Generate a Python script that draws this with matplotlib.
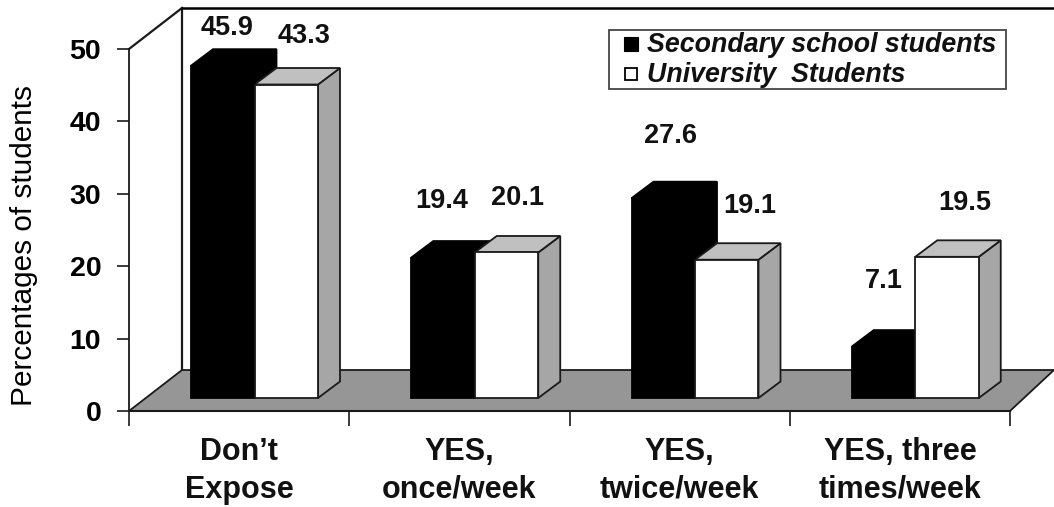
import matplotlib
matplotlib.use('Agg')
import matplotlib.pyplot as plt
from matplotlib.patches import Polygon, Rectangle

plt.rcParams['font.family'] = ['Liberation Sans', 'DejaVu Sans']

categories = ["Don\u2019t\nExpose", "YES,\nonce/week", "YES,\ntwice/week", "YES, three\ntimes/week"]
secondary = [45.9, 19.4, 27.6, 7.1]
university = [43.3, 20.1, 19.1, 19.5]
y_ticks = [0, 10, 20, 30, 40, 50]
series_names = ["Secondary school students", "University  Students"]

W, H = 1054, 507
x0, x1 = 129, 1010
y0, y50 = 411, 49

fig = plt.figure(figsize=(W / 100, H / 100), dpi=100)
ax = fig.add_axes([x0 / W, 1 - y0 / H, (x1 - x0) / W, (y0 - y50) / H])
ax.set_xlim(0, 4)
ax.set_ylim(0, 50)

# pixel sizes expressed in data units
px = 4 / (x1 - x0)
py = 50 / (y0 - y50)

wall_dx, wall_dy = 53 * px, 41 * py
bar_dx, bar_dy = 22 * px, 16.5 * py
base = 13 * py
bar_w = 63.5 * px
margin = (191 - 129) * px
edge = '#1a1a1a'


def poly(pts, face, z=2, lw=1.3, ec=edge):
    ax.add_patch(Polygon(pts, closed=True, facecolor=face, edgecolor=ec,
                         linewidth=lw, joinstyle='miter', clip_on=False, zorder=z))


# back wall and side wall, open at the right
ax.plot([0, wall_dx], [50, 50 + wall_dy], color=edge, lw=1.6, clip_on=False, zorder=1)
ax.plot([wall_dx, wall_dx], [wall_dy, 50 + wall_dy], color=edge, lw=1.6, clip_on=False, zorder=1)
ax.plot([wall_dx, (W - x0) * px], [50 + wall_dy] * 2, color='black', lw=1.8, clip_on=False, zorder=1)

# floor
poly([(0, 0), (wall_dx, wall_dy), ((W - x0) * px, wall_dy), (4, 0)], '#969696', z=1.5)


def draw_bar(left, value, face):
    right = left + bar_w
    top = base + value
    ec = 'black' if face == 'black' else edge
    # right side
    poly([(right, base), (right + bar_dx, base + bar_dy),
          (right + bar_dx, top + bar_dy), (right, top)], '#a6a6a6' if face == 'white' else 'black', ec=ec)
    # top
    poly([(left, top), (left + bar_dx, top + bar_dy),
          (right + bar_dx, top + bar_dy), (right, top)], '#c0c0c0' if face == 'white' else 'black', ec=ec)
    # front
    poly([(left, base), (right, base), (right, top), (left, top)], face, z=2.1, ec=ec)


label_off_sec = [(227, 28), (442, 201), (671, 136), (884, 281)]
label_off_uni = [(304, 36), (517, 198), (750, 206), (965, 203)]

for i in range(4):
    draw_bar(i + margin, secondary[i], 'black')
    draw_bar(i + margin + bar_w, university[i], 'white')
    ax.text((label_off_sec[i][0] - x0) * px, (y0 - label_off_sec[i][1]) * py, '%.1f' % secondary[i],
            ha='center', va='center', fontsize=19.5, fontweight='bold', color='#111111', zorder=5)
    ax.text((label_off_uni[i][0] - x0) * px, (y0 - label_off_uni[i][1]) * py, '%.1f' % university[i],
            ha='center', va='center', fontsize=19.5, fontweight='bold', color='#111111', zorder=5)

# axes
for s in ['top', 'right', 'bottom']:
    ax.spines[s].set_visible(False)
ax.spines['left'].set_color(edge)
ax.spines['left'].set_linewidth(1.3)
ax.patch.set_visible(False)
ax.plot([0, 4], [0, 0], color=edge, lw=1.5, clip_on=False, zorder=1.6)

ax.set_yticks(y_ticks)
ax.tick_params(axis='y', length=9, width=1.2, color=edge, pad=11, labelsize=20.5)
for t in ax.get_yticklabels():
    t.set_fontweight('bold')
ax.set_xticks(range(5))
ax.set_xticklabels([])
ax.tick_params(axis='x', length=11, width=1.2, color=edge)

# two-line category names, each line on its own baseline
for i, name in enumerate(categories):
    for line, ypix in zip(name.split('\n'), [460, 498]):
        ax.text(i + 0.5, (y0 - ypix) * py, line, ha='center', va='baseline',
                fontsize=22, fontweight='bold', color='#111111', clip_on=False)

fig.text(24 / W, 1 - 245 / H, 'Percentages of students', rotation=90, ha='center', va='center',
         fontsize=21.4, color='black')

# legend box
ax.add_patch(Rectangle(((609 - x0) * px, (y0 - 89) * py), 397 * px, 59 * py, facecolor='white',
                       edgecolor='#444444', linewidth=1.3, clip_on=False, zorder=6))
ax.add_patch(Rectangle(((624 - x0) * px, (y0 - 51) * py), 14 * px, 14 * py, facecolor='black',
                       edgecolor='black', linewidth=0.8, clip_on=False, zorder=7))
ax.add_patch(Rectangle(((625 - x0) * px, (y0 - 80) * py), 12 * px, 12 * py, facecolor='white',
                       edgecolor='black', linewidth=1.3, clip_on=False, zorder=7))
for name, ypix in zip(series_names, [45, 75]):
    ax.text((647 - x0) * px, (y0 - ypix) * py, name, ha='left', va='center', fontsize=19.3,
            fontweight='bold', fontstyle='italic', color='#111111', zorder=7)

fig.savefig('out.png', dpi=100)
